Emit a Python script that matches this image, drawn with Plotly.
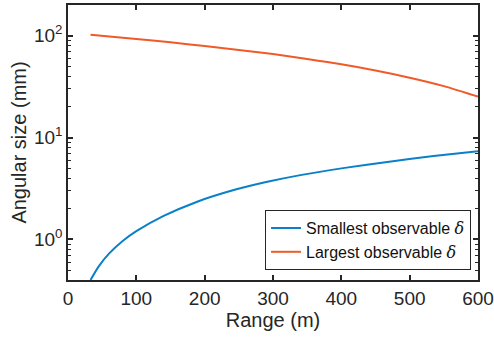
import plotly.graph_objects as go

# Range in metres and the angular size limits in millimetres
range_small = [33, 45, 60, 80, 100, 140, 190, 240, 290, 340, 405, 470, 535, 600]
delta_small = [0.40, 0.545, 0.725, 0.965, 1.205, 1.70, 2.36, 3.02, 3.66, 4.28, 5.04, 5.80, 6.58, 7.36]

range_large = [33, 100, 150, 200, 250, 300, 350, 400, 450, 500, 550, 600]
delta_large = [102, 93, 86, 79, 72.5, 66, 59, 52.3, 45.5, 38.7, 32, 25.2]

name_small = 'Smallest observable <span style="font-family:DejaVu Serif"><i>δ</i></span>'
name_large = 'Largest observable <span style="font-family:DejaVu Serif"><i>δ</i></span>'

x_ticks = [0, 100, 200, 300, 400, 500, 600]
y_ticks = [1, 10, 100]
y_tick_text = ["10<sup>0</sup>", "10<sup>1</sup>", "10<sup>2</sup>"]
y_minor = [0.4, 0.5, 0.6, 0.7, 0.8, 0.9,
           2, 3, 4, 5, 6, 7, 8, 9,
           20, 30, 40, 50, 60, 70, 80, 90, 200]

ink = "#262626"
family = "Liberation Sans, Arial, sans-serif"
tick_font = dict(family=family, size=19, color=ink)
title_font = dict(family=family, size=20, color=ink)

fig = go.Figure()
fig.add_trace(go.Scatter(x=range_small, y=delta_small, mode="lines", name=name_small,
                         line=dict(color="#0A80C8", width=2, shape="spline", smoothing=0.8)))
fig.add_trace(go.Scatter(x=range_large, y=delta_large, mode="lines", name=name_large,
                         line=dict(color="#F05A28", width=2, shape="spline", smoothing=0.8)))

fig.update_layout(
    width=494, height=343,
    margin=dict(l=68, r=16, t=5, b=63),
    paper_bgcolor="white", plot_bgcolor="white",
    font=tick_font,
    showlegend=True,
    legend=dict(x=0.983, y=0.036, xanchor="right", yanchor="bottom",
                bgcolor="white", bordercolor=ink, borderwidth=1,
                font=dict(family=family, size=16, color="#111111"),
                tracegroupgap=0, itemwidth=30),
)

fig.update_xaxes(
    range=[0, 600], tickvals=x_ticks, showgrid=False, zeroline=False,
    showline=True, linecolor=ink, linewidth=1.5, mirror="allticks",
    ticks="inside", ticklen=5, tickcolor=ink, tickwidth=1.5,
    tickfont=tick_font, automargin=False,
    title=dict(text="Range (m)", standoff=4, font=title_font),
)
fig.update_yaxes(
    type="log", range=[-0.398, 2.301], tickvals=y_ticks, ticktext=y_tick_text,
    showgrid=False, zeroline=False,
    showline=True, linecolor=ink, linewidth=1.5, mirror="allticks",
    ticks="inside", ticklen=5, tickcolor=ink, tickwidth=1.5,
    tickfont=tick_font, automargin=False,
    minor=dict(tickvals=y_minor, ticks="inside", ticklen=3, tickcolor=ink, tickwidth=1, showgrid=False),
    title=dict(text="Angular size (mm)", standoff=2, font=title_font),
)

fig.write_html("out.html")
